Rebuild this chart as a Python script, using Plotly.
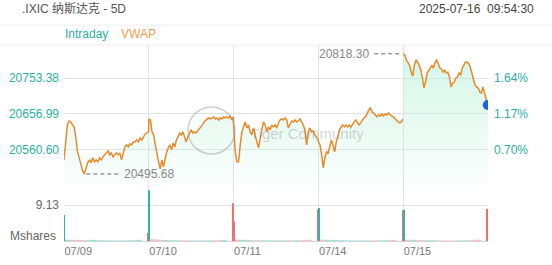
import plotly.graph_objects as go
import numpy as np

# ---------------- data ----------------
days = ["07/09", "07/10", "07/11", "07/14", "07/15"]

price_0709 = [20533.8, 20574.0, 20627.5, 20638.2, 20635.6, 20627.5, 20622.2, 20592.7, 20555.3, 20539.2,
              20520.4, 20504.4, 20495.68, 20512.4, 20525.8, 20533.8, 20525.8, 20539.2, 20528.5, 20533.8,
              20528.5, 20539.2, 20533.8, 20541.9, 20547.2, 20552.6, 20557.9, 20547.2, 20552.6, 20541.9,
              20547.2, 20552.6, 20547.2, 20552.6, 20533.8, 20555.3, 20568.6, 20574.0, 20568.6, 20576.7,
              20574.0, 20582.0, 20582.0, 20587.4, 20582.0, 20592.7, 20587.4, 20595.4, 20603.4, 20606.1,
              20608.8]
price_0710 = [20643.6, 20640.9, 20608.8, 20600.8, 20574.0, 20547.2, 20528.5, 20509.7, 20533.8, 20515.1,
              20539.2, 20555.3, 20566.0, 20574.0, 20560.6, 20579.3, 20568.6, 20587.4, 20595.4, 20606.1,
              20600.8, 20608.8, 20595.4, 20582.0, 20595.4, 20606.1, 20614.2, 20606.1, 20608.8, 20606.1,
              20611.5, 20614.2, 20622.2, 20627.5, 20635.6, 20640.9, 20643.6, 20646.3, 20643.6, 20646.3,
              20649.0, 20643.6, 20646.3, 20640.9, 20646.3, 20643.6, 20649.0, 20646.3, 20649.0, 20646.3,
              20651.6, 20640.9, 20649.0]
price_0711 = [20627.5, 20555.3, 20528.5, 20528.5, 20574.0, 20608.8, 20622.2, 20635.6, 20619.5, 20627.5,
              20608.8, 20600.8, 20619.5, 20595.4, 20582.0, 20566.0, 20592.7, 20614.2, 20635.6, 20627.5,
              20608.8, 20622.2, 20614.2, 20627.5, 20622.2, 20627.5, 20619.5, 20632.9, 20640.9, 20643.6,
              20640.9, 20646.3, 20640.9, 20619.5, 20627.5, 20638.2, 20635.6, 20640.9, 20635.6, 20638.2,
              20643.6, 20635.6, 20627.5, 20614.2, 20574.0, 20608.8, 20619.5, 20608.8, 20611.5, 20600.8,
              20595.4, 20587.4]
price_0714 = [20582.0, 20574.0, 20547.2, 20512.4, 20539.2, 20555.3, 20552.6, 20574.0, 20587.4, 20574.0,
              20555.3, 20582.0, 20600.8, 20614.2, 20622.2, 20627.5, 20622.2, 20627.5, 20622.2, 20627.5,
              20622.2, 20630.2, 20635.6, 20640.9, 20635.6, 20627.5, 20632.9, 20640.9, 20646.3, 20649.0,
              20659.7, 20667.7, 20673.1, 20662.3, 20659.7, 20654.3, 20649.0, 20654.3, 20651.6, 20657.0,
              20651.6, 20657.0, 20654.3, 20659.7, 20654.3, 20651.6, 20649.0, 20643.6, 20640.9, 20635.6,
              20632.9, 20635.6, 20643.6]
price_0715 = [20818.30, 20815.0, 20801.6, 20793.5, 20788.2, 20769.4, 20758.7, 20788.2, 20801.6, 20796.2,
              20788.2, 20774.8, 20756.0, 20726.6, 20742.7, 20766.8, 20774.8, 20782.8, 20788.2, 20780.2,
              20796.2, 20801.6, 20788.2, 20780.2, 20777.5, 20769.4, 20774.8, 20766.8, 20769.4, 20756.0,
              20729.3, 20740.0, 20742.7, 20753.4, 20756.0, 20766.8, 20761.4, 20780.2, 20788.2, 20796.2,
              20796.2, 20793.5, 20782.8, 20766.8, 20753.4, 20734.6, 20729.3, 20726.6, 20715.9, 20713.2,
              20729.3, 20713.2, 20699.8, 20681.1]
prices = [price_0709, price_0710, price_0711, price_0714, price_0715]

# volume (Mshares): opening / closing auction spikes and half-hour session volumes
vol_open = [6.6, 12.9, 5.0, 8.4, 7.9]
vol_open_up = [True, True, False, True, True]
vol_close = [2.0, 9.6, 7.9, 7.8, 8.1]
vol_mid = [
    [0.35, 0.3, 0.25, 0.2, 0.3, 0.2, 0.18, 0.15, 0.15, 0.15, 0.2, 0.3],
    [0.45, 0.35, 0.25, 0.2, 0.18, 0.15, 0.15, 0.15, 0.15, 0.18, 0.2, 0.3],
    [0.35, 0.3, 0.22, 0.2, 0.18, 0.15, 0.15, 0.15, 0.15, 0.18, 0.2, 0.3],
    [0.35, 0.3, 0.25, 0.2, 0.18, 0.15, 0.15, 0.15, 0.15, 0.18, 0.2, 0.3],
    [0.35, 0.3, 0.22, 0.2, 0.18, 0.15, 0.15, 0.15, 0.15, 0.18, 0.2, 0.35],
]

price_ticks = [20560.60, 20656.99, 20753.38]
pct_ticks = ["0.70%", "1.17%", "1.64%"]
vol_ticks = [9.13]
title_text = ".IXIC 纳斯达克 - 5D"
time_text = "2025-07-16  09:54:30"

# ---------------- styles ----------------
W, H = 552, 265
FONT = "Arial, 'Liberation Sans', 'Noto Sans CJK SC', sans-serif"
TEAL = "#2aaea3"
ORANGE = "#e8892b"
UP = "#2ab7a9"
DOWN = "#ee6f72"
UP_SOFT = "rgba(42,183,169,0.45)"
DOWN_SOFT = "rgba(238,111,114,0.45)"
GRID = "#e3e3e3"
SESSION = 390  # minutes per trading day

def px(x):
    return x / W

def py(y):
    return 1 - y / H

# times (minutes from start of 5D window) for each day's samples
times = []
for i, p in enumerate(prices):
    n = len(p)
    times.append([i * SESSION + k * (SESSION - 1) / (n - 1) for k in range(n)])

fig = go.Figure()

# days 1-4 continuous, day 5 separate
xa = sum(times[:4], [])
ya = sum(prices[:4], [])
xb, yb = times[4], prices[4]

y_lo, y_hi = 20461.0, 20842.0
grad = dict(type="vertical",
            colorscale=[[0, "rgba(180,240,215,0.04)"], [1, "rgba(180,240,215,0.58)"]],
            start=y_lo, stop=max(price_0715))

for xs, ys in [(xa, ya), (xb, yb)]:
    fig.add_trace(go.Scatter(x=xs, y=ys, mode="lines", fill="tozeroy",
                             fillgradient=grad,
                             line=dict(color=ORANGE, width=1.5),
                             hoverinfo="skip", showlegend=False, xaxis="x", yaxis="y"))

# last point dot
fig.add_trace(go.Scatter(x=[xb[-1]], y=[yb[-1]], mode="markers",
                         marker=dict(color="#1f63e4", size=10),
                         hoverinfo="skip", showlegend=False, xaxis="x", yaxis="y"))

# min / max markers with dashed leaders
all_p = sum(prices, [])
all_t = sum(times, [])
imin = int(np.argmin(all_p)); imax = int(np.argmax(all_p))
tmin, pmin = all_t[imin], all_p[imin]
tmax, pmax = all_t[imax], all_p[imax]
m_per_px = 5 * SESSION / (488 - 64)
fig.add_trace(go.Scatter(x=[tmin + 2 * m_per_px, tmin + 35 * m_per_px], y=[pmin, pmin], mode="lines",
                         line=dict(color="#9a9a9a", width=1.5, dash="4px,3px"),
                         hoverinfo="skip", showlegend=False, xaxis="x", yaxis="y"))
fig.add_trace(go.Scatter(x=[tmax - 29 * m_per_px, tmax - 2 * m_per_px], y=[pmax, pmax], mode="lines",
                         line=dict(color="#9a9a9a", width=1.5, dash="4px,3px"),
                         hoverinfo="skip", showlegend=False, xaxis="x", yaxis="y"))

# invisible trace to carry the right-hand percentage axis
fig.add_trace(go.Scatter(x=[all_t[0]], y=[price_ticks[1]], mode="markers", marker=dict(opacity=0),
                         hoverinfo="skip", showlegend=False, xaxis="x", yaxis="y3"))

# volume bars
vx, vy, vc, vw = [], [], [], []
for i in range(5):
    off = i * SESSION
    p = prices[i]
    n = len(p)
    vx.append(off + 2); vy.append(vol_open[i]); vc.append(UP if vol_open_up[i] else DOWN); vw.append(4.5)
    for j, v in enumerate(vol_mid[i]):
        m = 30 * (j + 1)
        k = int(round(m / (SESSION - 1) * (n - 1)))
        k0 = int(round((m - 30) / (SESSION - 1) * (n - 1)))
        vx.append(off + m - 15); vy.append(v)
        vc.append(UP_SOFT if p[k] >= p[k0] else DOWN_SOFT); vw.append(29.5)
    vx.append(off + SESSION - 3); vy.append(vol_close[i]); vc.append(DOWN); vw.append(4.5)
fig.add_trace(go.Bar(x=vx, y=vy, width=vw, marker=dict(color=vc, line=dict(width=0)),
                     hoverinfo="skip", showlegend=False, xaxis="x2", yaxis="y2"))

tickvals_x = [i * SESSION for i in range(6)]
ticktext_x = days + [""]

fig.update_layout(
    width=W, height=H, margin=dict(l=0, r=0, t=0, b=0),
    paper_bgcolor="white", plot_bgcolor="white",
    font=dict(family=FONT, size=12, color="#666"),
    barmode="overlay",
    xaxis=dict(domain=[px(64), px(488)], range=[0, 5 * SESSION], tickvals=tickvals_x,
               showticklabels=False, showgrid=True, gridcolor=GRID, gridwidth=1,
               zeroline=False, showline=False, anchor="y"),
    xaxis2=dict(domain=[px(64), px(488)], range=[0, 5 * SESSION], tickvals=tickvals_x,
                ticktext=ticktext_x, ticklabelposition="outside right",
                tickfont=dict(size=11, color="#777"),
                showgrid=True, gridcolor=GRID, gridwidth=1, zeroline=False,
                showline=True, linecolor="#d6d6d6", linewidth=1, ticks="", anchor="y2",
                matches="x"),
    yaxis=dict(domain=[py(187), py(45)], range=[y_lo, y_hi], tickvals=price_ticks,
               ticktext=[f"{v:.2f}" for v in price_ticks], tickfont=dict(size=12, color=TEAL),
               showgrid=True, gridcolor=GRID, zeroline=False, showline=False, ticks="",
               ticklabelstandoff=4, anchor="x"),
    yaxis3=dict(overlaying="y", side="right", range=[y_lo, y_hi], tickvals=price_ticks,
                ticktext=pct_ticks, tickfont=dict(size=12, color=TEAL), showgrid=False,
                zeroline=False, showline=False, ticks="", ticklabelstandoff=5, anchor="x"),
    yaxis2=dict(domain=[py(241), py(187)], range=[0, 13.7], tickvals=vol_ticks,
                ticktext=[f"{v:.2f}" for v in vol_ticks], tickfont=dict(size=12, color="#666"),
                showgrid=True, gridcolor=GRID, zeroline=False, showline=False, ticks="",
                ticklabelstandoff=4, anchor="x2"),
)

shapes = [
    dict(type="line", xref="paper", yref="paper", x0=0, x1=1, y0=py(25), y1=py(25),
         line=dict(color="#eeeeee", width=1)),
    dict(type="line", xref="paper", yref="paper", x0=0, x1=1, y0=py(45), y1=py(45),
         line=dict(color="#eeeeee", width=1)),
    # watermark logo ring
    dict(type="circle", xref="paper", yref="paper", x0=px(188), x1=px(235), y0=py(154), y1=py(107),
         line=dict(color="rgba(150,150,150,0.45)", width=1.5), layer="above"),
]
fig.update_layout(shapes=shapes)

ann = [
    dict(text=title_text, x=px(20), y=py(9), xanchor="left", yanchor="middle",
         font=dict(size=12, color="#555")),
    dict(text=time_text, x=px(536), y=py(9), xanchor="right", yanchor="middle",
         font=dict(size=12, color="#444")),
    dict(text="Intraday", x=px(63), y=py(34.5), xanchor="left", yanchor="middle",
         font=dict(size=12, color=TEAL)),
    dict(text="VWAP", x=px(119), y=py(34.5), xanchor="left", yanchor="middle",
         font=dict(size=12, color="#f09a55")),
    dict(text="Mshares", x=px(58), y=py(235.5), xanchor="right", yanchor="middle",
         font=dict(size=12, color="#666")),
    dict(text="Tiger Community", x=px(307), y=py(133), xanchor="center", yanchor="middle",
         font=dict(size=15, color="rgba(140,140,140,0.38)")),
]
for a in ann:
    a.update(xref="paper", yref="paper", showarrow=False)
ann.append(dict(text=f"{pmin:.2f}", x=tmin + 38 * m_per_px, y=pmin, xref="x", yref="y",
                xanchor="left", yanchor="middle", showarrow=False, font=dict(size=12, color="#888")))
ann.append(dict(text=f"{pmax:.2f}", x=tmax - 32 * m_per_px, y=pmax, xref="x", yref="y",
                xanchor="right", yanchor="middle", showarrow=False, font=dict(size=12, color="#888")))
fig.update_layout(annotations=ann)

fig.write_html("out.html")
